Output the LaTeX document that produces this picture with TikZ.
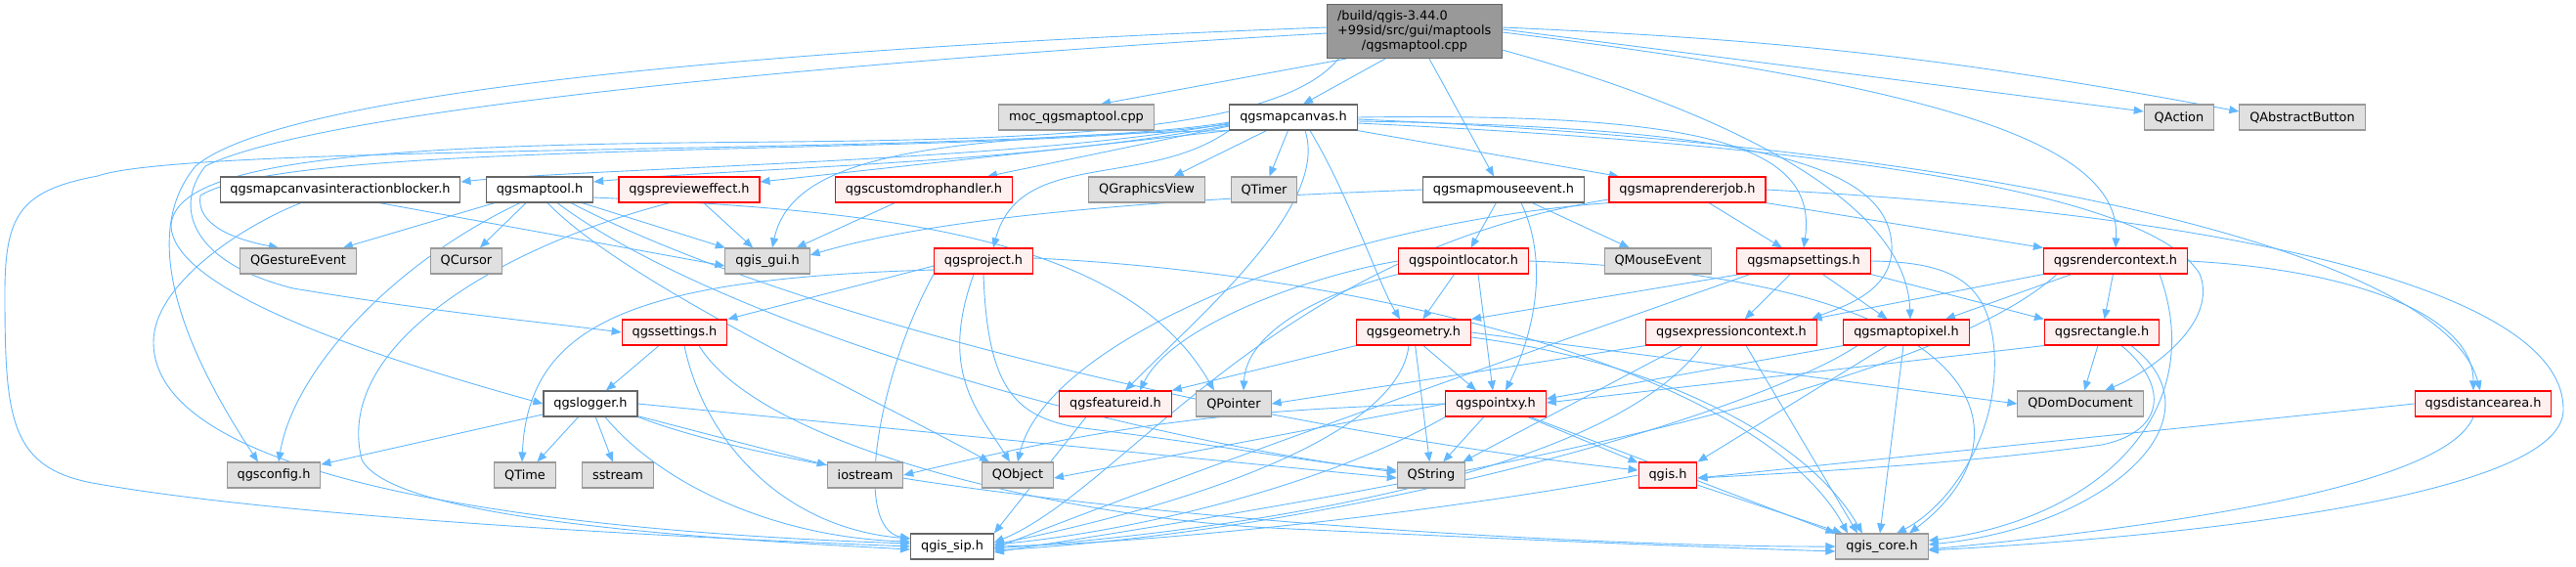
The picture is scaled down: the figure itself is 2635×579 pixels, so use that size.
\documentclass[tikz,border=0pt]{standalone}
\usepackage{fontspec}
\setmainfont{DejaVu Sans}
\usetikzlibrary{arrows.meta,backgrounds}
\definecolor{edgeblue}{HTML}{63B8FF}
\definecolor{boxgrey}{HTML}{E0E0E0}
\definecolor{rimgrey}{HTML}{999999}
\definecolor{rimdark}{HTML}{666666}
\definecolor{pinkfill}{HTML}{FFF0F0}

\begin{document}
\begin{tikzpicture}[%
    x=1pt, y=-1pt,                       % pixel grid, y runs downwards
    >={Triangle[length=10pt,width=8pt]}, % filled doxygen-like heads
    ]
% -------------------------------------------------
% Box styles
\tikzset{
  base/.style={draw, rectangle, line width=1.1pt, inner xsep=10.4pt, inner ysep=0pt,
    minimum height=26pt, font=\fontsize{12.9}{15}\selectfont},
  hdr/.style={base, fill=white, draw=rimdark},
  sys/.style={base, fill=boxgrey, draw=rimgrey},
  part/.style={base, fill=pinkfill, draw=red},
  root/.style={base, fill=rimgrey, draw=rimdark, minimum height=55pt,
    text width=158pt, align=left},
  % Connector line style
  dep/.style={->, draw=edgeblue, line width=0.9pt},
}
\useasboundingbox (0,0) rectangle (2635,579);
% -------------------------------------------------
% Start by placing the nodes
\node[root] (src) at (1447,32) {/build/qgis-3.44.0\\+99sid/src/gui/maptools\\\makebox[\linewidth]{/qgsmaptool.cpp}};
% row 1
\node[sys] (moc) at (1101,120) {moc\_qgsmaptool.cpp};
\node[hdr] (canvas) at (1323,120) {qgsmapcanvas.h};
\node[sys] (qaction) at (2229,120) {QAction};
\node[sys] (qbutton) at (2355,120) {QAbstractButton};
% row 2
\node[hdr] (blocker) at (348,194) {qgsmapcanvasinteractionblocker.h};
\node[hdr] (maptool) at (552,194) {qgsmaptool.h};
\node[part] (preview) at (705,194) {qgsprevieweffect.h};
\node[part] (drophandler) at (945,194) {qgscustomdrophandler.h};
\node[sys] (qgview) at (1173,194) {QGraphicsView};
\node[sys] (qtimer) at (1293,194) {QTimer};
\node[hdr] (mouseevent) at (1538,194) {qgsmapmouseevent.h};
\node[part] (renderjob) at (1726,194) {qgsmaprendererjob.h};
% row 3
\node[sys] (qgesture) at (305,267) {QGestureEvent};
\node[sys] (qcursor) at (477,267) {QCursor};
\node[sys] (qgisgui) at (785,267) {qgis\_gui.h};
\node[part] (project) at (1006,267) {qgsproject.h};
\node[part] (locator) at (1497,267) {qgspointlocator.h};
\node[sys] (qmouse) at (1696,267) {QMouseEvent};
\node[part] (mapsettings) at (1845,267) {qgsmapsettings.h};
\node[part] (rendercontext) at (2164,267) {qgsrendercontext.h};
% row 4
\node[part] (settings) at (690,340) {qgssettings.h};
\node[part] (geometry) at (1446,340) {qgsgeometry.h};
\node[part] (exprcontext) at (1771,340) {qgsexpressioncontext.h};
\node[part] (maptopixel) at (1950,340) {qgsmaptopixel.h};
\node[part] (rect) at (2150,340) {qgsrectangle.h};
% row 5
\node[hdr] (logger) at (604,413) {qgslogger.h};
\node[part] (featureid) at (1141,413) {qgsfeatureid.h};
\node[sys] (qpointer) at (1262,413) {QPointer};
\node[part] (pointxy) at (1530,413) {qgspointxy.h};
\node[sys] (qdomdoc) at (2128,413) {QDomDocument};
\node[part] (distarea) at (2540,413) {qgsdistancearea.h};
% row 6
\node[sys] (qgsconfig) at (280,486) {qgsconfig.h};
\node[sys] (qtime) at (537,486) {QTime};
\node[sys] (sstream) at (632,486) {sstream};
\node[sys] (iostream) at (885,486) {iostream};
\node[sys] (qobject) at (1041,486) {QObject};
\node[sys] (qstring) at (1464,486) {QString};
\node[part] (qgish) at (1706,486) {qgis.h};
% row 7
\node[hdr] (qgissip) at (974,559) {qgis\_sip.h};
\node[sys] (qgiscore) at (1925,559) {qgis\_core.h};
% -------------------------------------------------
% Then the include edges, behind the boxes
\begin{scope}[on background layer]
% the cpp file
\draw[dep] ([xshift=-70pt]src.south) -- ([xshift=25pt]moc.north);
\draw[dep] ([xshift=-30pt]src.south) -- ([xshift=10pt]canvas.north);
\draw[dep] ([xshift=15pt]src.south) -- ([xshift=-10pt]mouseevent.north);
\draw[dep] ([yshift=2pt]src.east) -- ([yshift=6pt]qaction.west);
\draw[dep] ([yshift=4pt]src.east) to[bend left=4] ([yshift=6pt]qbutton.west);
\draw[dep] ([yshift=-1pt]src.east) .. controls (2000,90) and (2170,150) .. (rendercontext.north);
\draw[dep] (src.-12) .. controls (1750,110) and (1950,200) .. ([xshift=4pt]maptopixel.north);
\draw[dep] ([yshift=4pt]src.west) .. controls (900,45) and (300,85) .. (200,170) .. controls (150,230) and (170,330) .. ([xshift=-16pt]qgsconfig.north);
\draw[dep] ([yshift=-2pt]src.west) .. controls (900,60) and (330,110) .. (210,170) .. controls (175,215) and (200,270) .. (300,295) .. controls (450,320) and (560,330) .. (settings.west);
\draw[dep] ([xshift=12pt]src.south west) .. controls (1300,145) and (1000,143) .. (700,146) .. controls (350,150) and (180,170) .. (175,230) .. controls (175,300) and (400,370) .. (logger.west);
% qgsmapcanvas.h
\draw[dep] ([yshift=-6pt]canvas.west) .. controls (1050,165) and (600,172) .. ([yshift=8pt]blocker.east);
\draw[dep] ([yshift=-8pt]canvas.west) .. controls (1050,168) and (750,172) .. ([yshift=8pt]maptool.east);
\draw[dep] (canvas.south west) -- ([yshift=8pt]preview.east);
\draw[dep] ([yshift=-9pt]canvas.west) -- ([xshift=65pt]drophandler.north);
\draw[dep] (canvas) -- (qgview);
\draw[dep] (canvas) -- (qtimer);
\draw[dep] (canvas.south east) -- ([xshift=-70pt]renderjob.north);
\draw[dep] (canvas.south west) .. controls (950,140) and (810,160) .. ([xshift=5pt]qgisgui.north);
\draw[dep] ([yshift=-7pt]canvas.west) .. controls (1000,162) and (300,140) .. (205,200) .. controls (200,230) and (240,245) .. ([xshift=-20pt]qgesture.north);
\draw[dep] ([yshift=-5pt]canvas.west) .. controls (1050,160) and (200,145) .. (100,180) .. controls (20,195) and (5,220) .. (5,300) .. controls (5,430) and (10,480) .. (100,495) .. controls (300,530) and (700,550) .. (qgissip.west);
\draw[dep] (canvas.south west) to[out=215,in=75] ([xshift=10pt]project.north);
\draw[dep] ([xshift=12pt]canvas.south) .. controls (1360,210) and (1230,320) .. ([xshift=10pt]featureid.north);
\draw[dep] ([xshift=17pt]canvas.south) .. controls (1380,200) and (1410,290) .. ([xshift=-14pt]geometry.north);
\draw[dep] (canvas.east) .. controls (1750,115) and (1860,150) .. (mapsettings.north);
\draw[dep] ([yshift=-4pt]canvas.east) .. controls (1800,130) and (1930,170) .. (1935,250) .. controls (1938,300) and (1880,315) .. ([xshift=82pt]exprcontext.north);
\draw[dep] ([yshift=-2pt]canvas.east) .. controls (2050,150) and (2500,260) .. ([xshift=-3pt]distarea.north);
\draw[dep] ([yshift=-6pt]canvas.east) .. controls (1900,150) and (2200,200) .. (2250,280) .. controls (2270,330) and (2200,380) .. ([xshift=25pt]qdomdoc.north);
% qgsmapcanvasinteractionblocker.h
\draw[dep] ([xshift=40pt]blocker.south) -- ([yshift=-5pt]qgisgui.west);
\draw[dep] ([xshift=-40pt]blocker.south) .. controls (250,230) and (157,290) .. (157,350) .. controls (157,500) and (600,545) .. ([yshift=3pt]qgissip.west);
% qgsmaptool.h
\draw[dep] (maptool) -- (qgesture);
\draw[dep] (maptool) -- (qcursor);
\draw[dep] (maptool) -- (qgisgui);
\draw[dep] ([xshift=-20pt]maptool.south) .. controls (400,270) and (300,380) .. ([xshift=5pt]qgsconfig.north);
\draw[dep] ([xshift=8pt]maptool.south) .. controls (640,290) and (880,400) .. ([xshift=8pt]qobject.north west);
\draw[dep] ([xshift=18pt]maptool.south) .. controls (720,320) and (1100,440) .. ([yshift=3pt]qstring.west);
\draw[dep] ([xshift=32pt]maptool.south) .. controls (820,330) and (1300,440) .. ([yshift=5pt]qgish.west);
\draw[dep] ([yshift=-8pt]maptool.east) .. controls (900,215) and (1150,240) .. ([xshift=-20pt]qpointer.north);
% qgsprevieweffect.h, qgscustomdrophandler.h
\draw[dep] (preview) -- (qgisgui);
\draw[dep] ([xshift=-20pt]preview.south) .. controls (520,250) and (340,350) .. (370,470) .. controls (400,530) and (700,550) .. ([yshift=-3pt]qgissip.west);
\draw[dep] (drophandler) -- (qgisgui);
% qgsproject.h
\draw[dep] ([yshift=-5pt]project.west) -- (settings.north east);
\draw[dep] ([yshift=-9pt]project.west) .. controls (650,285) and (540,330) .. ([xshift=-3pt]qtime.north);
\draw[dep] ([xshift=-10pt]project.south) .. controls (960,380) and (1000,420) .. ([xshift=-8pt]qobject.north);
\draw[dep] (project.south) .. controls (1010,400) and (1040,425) .. (1100,437) .. controls (1250,455) and (1350,475) .. ([yshift=5pt]qstring.west);
\draw[dep] ([yshift=3pt]project.east) .. controls (1400,280) and (1800,380) .. ([xshift=-35pt]qgiscore.north);
\draw[dep] (project.south west) .. controls (900,380) and (870,540) .. ([yshift=8pt]qgissip.west);
% qgsmapmouseevent.h
\draw[dep] (mouseevent.west) .. controls (1150,205) and (950,225) .. ([yshift=6pt]qgisgui.east);
\draw[dep] (mouseevent) -- (locator);
\draw[dep] (mouseevent) -- (qmouse);
\draw[dep] ([xshift=18pt]mouseevent.south) .. controls (1590,280) and (1560,360) .. ([xshift=10pt]pointxy.north);
% qgspointlocator.h
\draw[dep] (locator) -- (geometry);
\draw[dep] ([xshift=15pt]locator.south) -- ([xshift=-3pt]pointxy.north);
\draw[dep] (locator.west) .. controls (1350,280) and (1200,330) .. ([xshift=25pt]featureid.north);
\draw[dep] (locator.south west) .. controls (1350,300) and (1275,340) .. ([xshift=10pt]qpointer.north);
\draw[dep] (locator.east) .. controls (2050,285) and (2080,450) .. ([xshift=28pt]qgiscore.north);
% qgsmaprendererjob.h
\draw[dep] (renderjob) -- (mapsettings);
\draw[dep] (renderjob.south east) -- (rendercontext.north west);
\draw[dep] (renderjob.east) .. controls (2300,220) and (2625,300) .. (2622,420) .. controls (2620,500) and (2300,545) .. ([yshift=-4pt]qgiscore.east);
\draw[dep] (renderjob.south west) .. controls (1350,230) and (1070,350) .. (qobject.north);
\draw[dep] ([yshift=-10pt]renderjob.west) .. controls (1300,260) and (1150,500) .. ([yshift=4pt]qgissip.east);
% qgsmapsettings.h
\draw[dep] (mapsettings) -- (exprcontext);
\draw[dep] (mapsettings) -- (maptopixel);
\draw[dep] (mapsettings.south east) -- (rect.north west);
\draw[dep] ([xshift=-65pt]mapsettings.south) -- (geometry.north east);
\draw[dep] (mapsettings.east) .. controls (2000,268) and (2035,290) .. (2040,360) .. controls (2045,450) and (1990,520) .. ([xshift=15pt]qgiscore.north);
\draw[dep] ([xshift=-55pt]mapsettings.south) .. controls (1650,330) and (1250,470) .. ([yshift=-2pt]qgissip.east);
% qgsrendercontext.h
\draw[dep] (rendercontext.south west) -- ([xshift=-5pt]exprcontext.north east);
\draw[dep] ([xshift=-45pt]rendercontext.south) -- ([xshift=40pt]maptopixel.north);
\draw[dep] (rendercontext) -- (rect);
\draw[dep] (rendercontext.east) .. controls (2400,275) and (2530,320) .. ([xshift=-10pt]distarea.north);
\draw[dep] ([xshift=45pt]rendercontext.south) .. controls (2260,420) and (2150,530) .. ([yshift=6pt]qgiscore.east);
\draw[dep] ([xshift=-60pt]rendercontext.south) .. controls (1950,420) and (1300,520) .. ([yshift=-6pt]qgissip.east);
% qgsgeometry.h
\draw[dep] (geometry.south west) -- (featureid.north east);
\draw[dep] ([xshift=10pt]geometry.south) -- ([xshift=-20pt]pointxy.north);
\draw[dep] (geometry) -- (qstring);
\draw[dep] (geometry.east) -- (qdomdoc.west);
\draw[dep] ([xshift=-5pt]geometry.south) .. controls (1430,450) and (1200,520) .. ([yshift=2pt]qgissip.east);
\draw[dep] ([yshift=-5pt]geometry.east) .. controls (1700,370) and (1850,450) .. ([xshift=-20pt]qgiscore.north);
% qgsexpressioncontext.h
\draw[dep] (exprcontext.south west) -- (qpointer.east);
\draw[dep] ([xshift=-50pt]exprcontext.south) -- ([xshift=-3pt]qstring.north east);
\draw[dep] ([xshift=-30pt]exprcontext.south) .. controls (1650,480) and (1300,540) .. ([yshift=-2pt]qgissip.east);
\draw[dep] ([xshift=15pt]exprcontext.south) -- ([xshift=-25pt]qgiscore.north);
% qgsmaptopixel.h
\draw[dep] (maptopixel.south west) -- ([yshift=5pt]pointxy.east);
\draw[dep] ([xshift=-20pt]maptopixel.south) -- (qgish.north east);
\draw[dep] ([xshift=-3pt]maptopixel.south) -- ([xshift=-2pt]qgiscore.north);
\draw[dep] ([xshift=-50pt]maptopixel.south) .. controls (1800,420) and (1400,540) .. ([yshift=-4pt]qgissip.east);
% qgsrectangle.h
\draw[dep] (rect) -- (qdomdoc);
\draw[dep] (rect.south west) -- ([yshift=1pt]pointxy.east);
\draw[dep] ([xshift=20pt]rect.south) .. controls (2215,390) and (2220,440) .. (2150,455) .. controls (2000,475) and (1850,483) .. ([yshift=-3pt]qgish.east);
\draw[dep] ([xshift=30pt]rect.south) .. controls (2280,430) and (2150,540) .. ([yshift=2pt]qgiscore.east);
% qgsdistancearea.h
\draw[dep] (distarea.west) -- ([yshift=-3pt]qgish.east);
\draw[dep] ([xshift=-10pt]distarea.south) .. controls (2500,500) and (2200,540) .. ([yshift=-3pt]qgiscore.east);
% qgspointxy.h
\draw[dep] (pointxy.west) -- ([yshift=-3pt]qobject.east);
\draw[dep] (pointxy.west) to[bend right=6] (iostream.east);
\draw[dep] (pointxy) -- (qstring);
\draw[dep] (pointxy) -- (qgish);
\draw[dep] (pointxy) -- (qgiscore.north west);
\draw[dep] (pointxy.south west) .. controls (1350,500) and (1150,545) .. ([yshift=2pt]qgissip.east);
% qgsfeatureid.h, qgis.h
\draw[dep] ([xshift=-30pt]featureid.south) -- (qgissip.north east);
\draw[dep] (qgish.west) .. controls (1500,520) and (1200,555) .. (qgissip.east);
\draw[dep] (qgish) -- (qgiscore);
% qgslogger.h
\draw[dep] (logger) -- (qgsconfig);
\draw[dep] (logger) -- (qtime);
\draw[dep] (logger) -- (sstream);
\draw[dep] (logger) -- (iostream);
\draw[dep] (logger.east) -- ([yshift=-3pt]qstring.west);
\draw[dep] (logger.south east) .. controls (900,520) and (1600,560) .. (qgiscore.west);
\draw[dep] ([xshift=15pt]logger.south) .. controls (680,500) and (800,550) .. ([yshift=5pt]qgissip.west);
% qgssettings.h
\draw[dep] (settings) -- (logger);
\draw[dep] ([xshift=25pt]settings.south) .. controls (780,460) and (1100,530) .. (1300,540) .. controls (1550,552) and (1750,560) .. ([yshift=-5pt]qgiscore.west);
\draw[dep] ([xshift=10pt]settings.south) .. controls (720,450) and (800,540) .. ([yshift=8pt]qgissip.west);
\end{scope}
% -------------------------------------------------
\end{tikzpicture}
\end{document}
